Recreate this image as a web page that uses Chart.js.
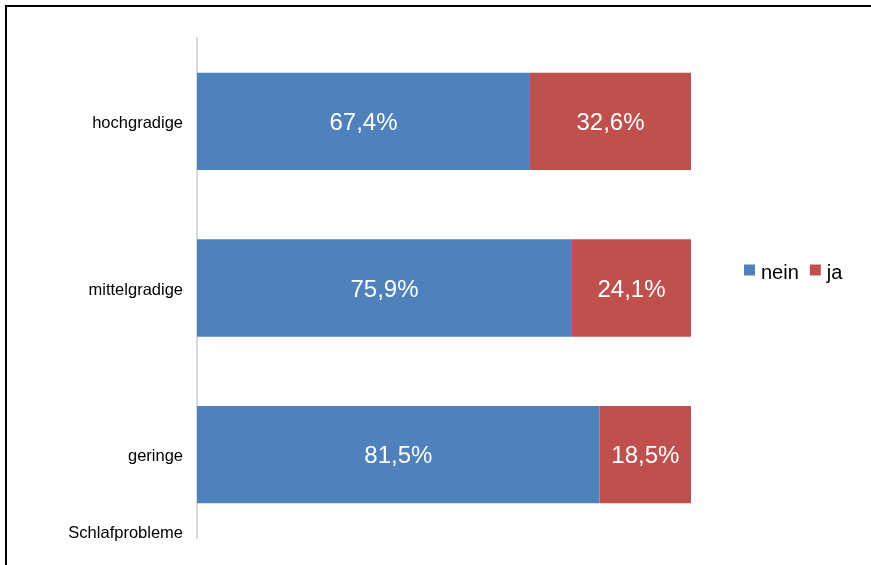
<!DOCTYPE html>
<html>
<head>
<meta charset="utf-8">
<script src="https://cdn.jsdelivr.net/npm/chart.js@4"></script>
<style>
  html, body { margin: 0; padding: 0; background: #fff; }
  #wrap { position: relative; width: 871px; height: 565px; overflow: hidden; }
  #frame { position: absolute; left: 5px; top: 5px; width: 900px; height: 600px;
           border-left: 2px solid #000; border-top: 2px solid #000; pointer-events: none; }
  canvas { position: absolute; left: 0; top: 0; }
</style>
</head>
<body>
<div id="wrap">
  <canvas id="c" width="871" height="565"></canvas>
  <div id="frame"></div>
</div>
<script>
const categories = ["hochgradige", "mittelgradige", "geringe"];
const neinValues = [67.4, 75.9, 81.5];
const jaValues = [32.6, 24.1, 18.5];
const seriesNames = ["nein", "ja"];
const axisTitle = "Schlafprobleme";

const FONT = '"Liberation Sans", Arial, sans-serif';
const fmt = v => v.toFixed(1).replace('.', ',') + '%';

const dataLabels = {
  id: 'dataLabels',
  afterDatasetsDraw(chart) {
    const ctx = chart.ctx;
    ctx.save();
    ctx.fillStyle = '#ffffff';
    ctx.font = '24px ' + FONT;
    ctx.textAlign = 'center';
    ctx.textBaseline = 'middle';
    chart.data.datasets.forEach((ds, i) => {
      const meta = chart.getDatasetMeta(i);
      meta.data.forEach((el, j) => {
        const p = el.getProps(['x', 'y', 'base'], true);
        ctx.fillText(fmt(ds.data[j]), (p.x + p.base) / 2, p.y + 2);
      });
    });
    ctx.restore();
  }
};

const extras = {
  id: 'extras',
  afterDraw(chart) {
    const ctx = chart.ctx;
    const a = chart.chartArea;
    ctx.save();
    ctx.fillStyle = '#000';
    ctx.font = '16.5px ' + FONT;
    ctx.textAlign = 'right';
    ctx.textBaseline = 'alphabetic';
    ctx.fillText(axisTitle, a.left - 14, a.bottom);
    ctx.font = '20px ' + FONT;
    ctx.textAlign = 'left';
    let x = 744;
    const y = 270;
    chart.data.datasets.forEach(ds => {
      ctx.fillStyle = ds.backgroundColor;
      ctx.fillRect(x, y - 5.5, 11, 11);
      ctx.fillStyle = '#000';
      ctx.fillText(ds.label, x + 17, y + 9);
      x += 17 + ctx.measureText(ds.label).width + 11;
    });
    ctx.restore();
  }
};

new Chart(document.getElementById('c'), {
  type: 'bar',
  data: {
    labels: categories,
    datasets: [
      { label: seriesNames[0], data: neinValues, backgroundColor: '#4F81BD' },
      { label: seriesNames[1], data: jaValues, backgroundColor: '#C0504D' }
    ]
  },
  options: {
    indexAxis: 'y',
    responsive: false,
    animation: false,
    devicePixelRatio: 1,
    layout: { padding: { top: 38, bottom: 27, left: 0, right: 180 } },
    datasets: { bar: { barPercentage: 0.584, categoryPercentage: 1 } },
    plugins: { legend: { display: false }, tooltip: { enabled: false } },
    scales: {
      x: { stacked: true, min: 0, max: 100, display: false },
      y: {
        stacked: true,
        grid: { display: false, drawTicks: false },
        border: { display: true, color: '#d9d9d9', width: 2 },
        ticks: { color: '#000', font: { family: FONT, size: 16.5 }, padding: 14, labelOffset: 2 },
        afterFit(scale) { scale.width = 197; }
      }
    }
  },
  plugins: [dataLabels, extras]
});
</script>
</body>
</html>
